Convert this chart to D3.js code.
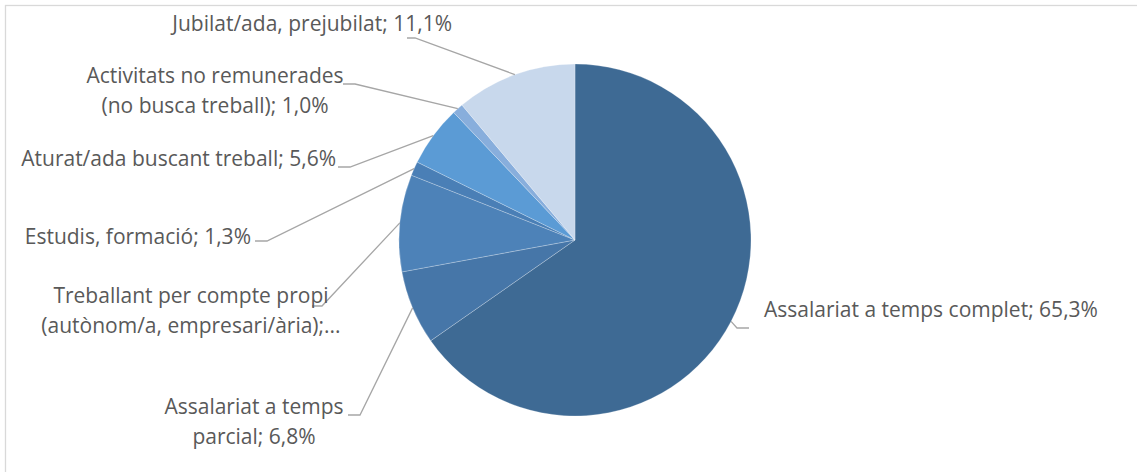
<!DOCTYPE html>
<html>
<head>
<meta charset="utf-8">
<script src="https://cdn.jsdelivr.net/npm/d3@7"></script>
<style>
  html, body { margin: 0; padding: 0; background: #ffffff; }
  svg { display: block; }
  text { font-family: "Open Sans", Lato, sans-serif; fill: #595959; }
</style>
</head>
<body>
<svg id="chart" width="1137" height="472"></svg>
<script>
// Situació laboral (%)
const categories = [
  "Assalariat a temps complet",
  "Assalariat a temps parcial",
  "Treballant per compte propi (autònom/a, empresari/ària)",
  "Estudis, formació",
  "Aturat/ada buscant treball",
  "Activitats no remunerades (no busca treball)",
  "Jubilat/ada, prejubilat"
];
const values = [65.3, 6.8, 8.9, 1.3, 5.6, 1.0, 11.1];
// Text shown for each slice, one entry per line
const labelLines = [
  ["Assalariat a temps complet; 65,3%"],
  ["Assalariat a temps", "parcial; 6,8%"],
  ["Treballant per compte propi", "(autònom/a, empresari/ària);..."],
  ["Estudis, formació; 1,3%"],
  ["Aturat/ada buscant treball; 5,6%"],
  ["Activitats no remunerades", "(no busca treball); 1,0%"],
  ["Jubilat/ada, prejubilat; 11,1%"]
];
const colors = ["#3e6a94", "#4676a8", "#4d82b8", "#4a7fb6", "#5b9bd5", "#88aedc", "#c8d8ec"];

// Label placement: text anchor, first baseline, and leader elbow
const layout = [
  { x: 764, y: 317, anchor: "start",  elbow: [737, 328], tip: [749, 328] },
  { x: 254, y: 414, anchor: "middle", elbow: [360, 415], tip: [348, 415] },
  { x: 191, y: 303, anchor: "middle", elbow: [322, 306], tip: [312, 306] },
  { x: 251, y: 244, anchor: "end",    elbow: [267, 241], tip: [255, 241] },
  { x: 336, y: 166, anchor: "end",    elbow: [350, 167], tip: [338, 167] },
  { x: 215, y: 83,  anchor: "middle", elbow: [355, 84],  tip: [343, 84] },
  { x: 452, y: 31,  anchor: "end",    elbow: [415, 38],  tip: [407, 38] }
];
const lineStep = 30;

const svg = d3.select("#chart");
const cx = 575, cy = 240, r = 176;

// Chart area frame
svg.append("rect")
  .attr("x", 5.5).attr("y", 5.5)
  .attr("width", 1140).attr("height", 480)
  .attr("fill", "none").attr("stroke", "#d9d9d9").attr("stroke-width", 1.3);

const pie = d3.pie().sort(null).value(d => d)(values);
const arc = d3.arc().innerRadius(0).outerRadius(r);

const g = svg.append("g").attr("transform", `translate(${cx},${cy})`);
g.selectAll("path.slice")
  .data(pie)
  .join("path")
  .attr("class", "slice")
  .attr("d", arc)
  .attr("fill", (d, i) => colors[i])
  .attr("stroke", "rgba(255,255,255,0.35)")
  .attr("stroke-width", 0.7);

// Leader lines from the slice's outer edge to its label
const edgePoint = d => {
  const a = (d.startAngle + d.endAngle) / 2;
  return [cx + r * Math.sin(a), cy - r * Math.cos(a)];
};
svg.selectAll("polyline.leader")
  .data(pie)
  .join("polyline")
  .attr("class", "leader")
  .attr("points", (d, i) => [edgePoint(d), layout[i].elbow, layout[i].tip].map(p => p.join(",")).join(" "))
  .attr("fill", "none")
  .attr("stroke", "#a6a6a6")
  .attr("stroke-width", 1.3);

// Data labels
const labels = svg.selectAll("text.label")
  .data(pie)
  .join("text")
  .attr("class", "label")
  .attr("text-anchor", (d, i) => layout[i].anchor)
  .style("font-size", "21px");
labels.each(function (d, i) {
  d3.select(this).selectAll("tspan")
    .data(labelLines[i])
    .join("tspan")
    .attr("x", layout[i].x)
    .attr("y", (t, j) => layout[i].y + j * lineStep)
    .text(t => t);
});
</script>
</body>
</html>
